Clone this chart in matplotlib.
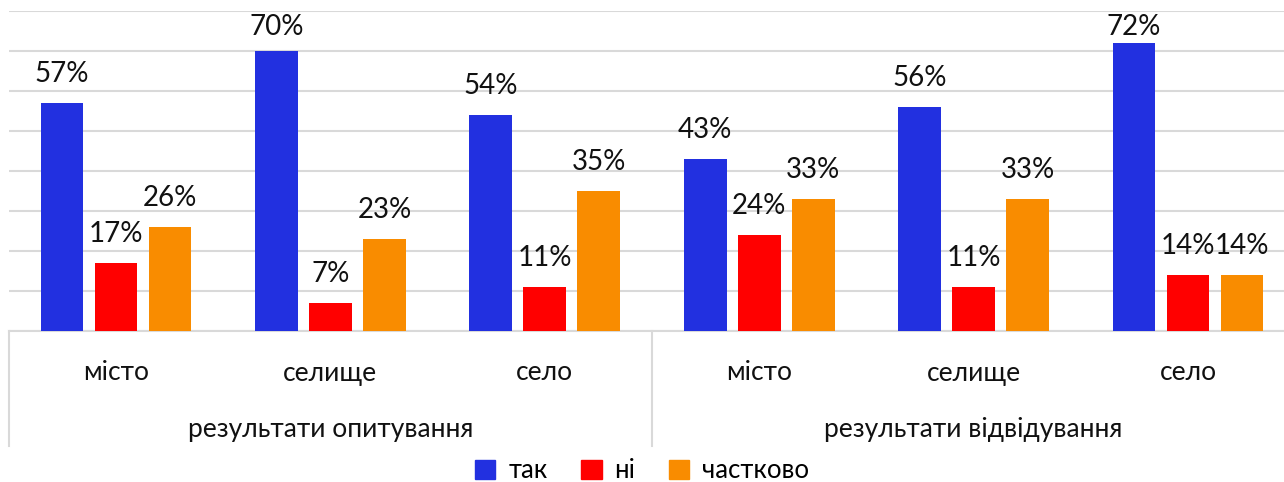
import matplotlib
matplotlib.use("Agg")
import matplotlib.pyplot as plt
from matplotlib.patches import Patch
from matplotlib.lines import Line2D
import numpy as np

plt.rcParams['font.family'] = ['Lato', 'DejaVu Sans']

categories = ["місто", "селище", "село", "місто", "селище", "село"]
groups = ["результати опитування", "результати відвідування"]
series_names = ["так", "ні", "частково"]
tak = [57, 70, 54, 43, 56, 72]
ni = [17, 7, 11, 24, 11, 14]
chastkovo = [26, 23, 35, 33, 33, 14]
colors = ["#2230E0", "#FF0000", "#F98C00"]

W, H = 1284, 482
gw = 214.4
left_px = 8.8
fig = plt.figure(figsize=(W / 100, H / 100), dpi=100)
ax = fig.add_axes([left_px / W, (H - 331) / H, 6 * gw / W, 320 / H])

x = np.arange(len(categories))
offs = [-0.252, 0.0, 0.252]
bw = 0.2
for vals, off, c in zip([tak, ni, chastkovo], offs, colors):
    ax.bar(x + off, vals, width=bw, color=c, zorder=3)
    for xi, v in zip(x + off, vals):
        ax.text(xi, min(v + 4.0, 72.7), f"{v}%", ha="center", va="bottom", fontsize=20, color="#111111")

ax.set_xlim(-0.5, 5.5)
ax.set_ylim(0, 80)
ax.set_yticks(np.arange(0, 81, 10))
ax.yaxis.grid(True, color="#d9d9d9", linewidth=1.5, zorder=0)
ax.set_axisbelow(True)
for s in ["top", "right", "left"]:
    ax.spines[s].set_visible(False)
ax.spines["bottom"].set_color("#d9d9d9")
ax.spines["bottom"].set_linewidth(1.5)
ax.tick_params(left=False, labelleft=False, bottom=False, labelbottom=False)

# category labels
trans = ax.get_xaxis_transform()
y_cat = -(373 - 331) / 320
y_grp = -(430 - 331) / 320
y_sep = -(446 - 331) / 320
for xi, c in zip(x, categories):
    ax.text(xi, y_cat, c, transform=trans, ha="center", va="center", fontsize=19, color="#111111")
for gi, g in enumerate(groups):
    ax.text(1 + 3 * gi, y_grp, g, transform=trans, ha="center", va="center", fontsize=19, color="#111111")
for xs in [-0.5, 2.5]:
    ax.add_line(Line2D([xs, xs], [0, y_sep], transform=trans, color="#d9d9d9", linewidth=1.5, clip_on=False))

handles = [Patch(facecolor=c, edgecolor=c) for c in colors]
fig.legend(handles, series_names, loc="center", bbox_to_anchor=(0.5, 1 - 471 / H), ncol=3,
           frameon=False, fontsize=18.5, handlelength=0.8, handleheight=0.8, handletextpad=0.5,
           columnspacing=1.3)

fig.savefig("out.png", dpi=100)
